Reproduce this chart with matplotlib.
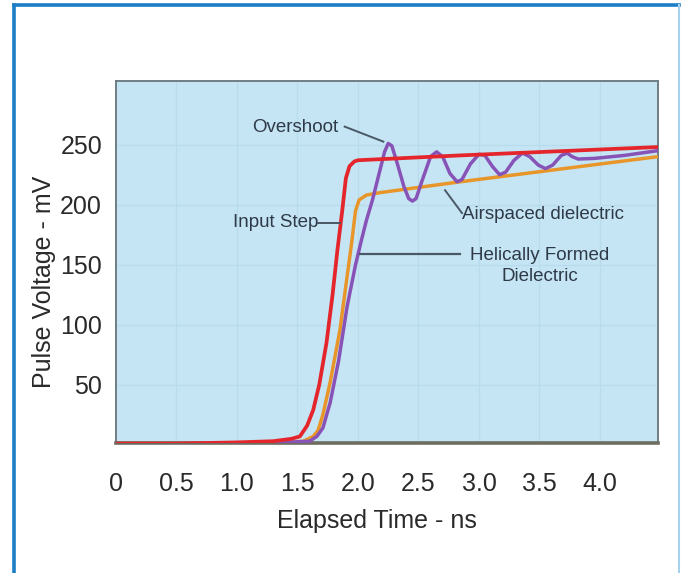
import matplotlib
matplotlib.use("Agg")
import matplotlib.pyplot as plt
from matplotlib.lines import Line2D

plt.rcParams['font.family'] = ['Liberation Sans', 'DejaVu Sans']

# --- data (time in ns, voltage in mV) ---
step_t = [0.0, 0.5, 1.0, 1.3, 1.45, 1.52, 1.58, 1.63, 1.68, 1.74, 1.79, 1.83,
          1.87, 1.90, 1.93, 1.97, 2.0, 2.84, 4.48]
step_v = [1, 1, 2, 3, 5, 7, 16, 29, 50, 85, 125, 162,
          195, 222, 232, 236, 237, 241, 248]

helix_t = [0.0, 0.5, 1.0, 1.4, 1.55, 1.63, 1.67, 1.71, 1.77, 1.85, 1.91, 1.95,
           1.98, 2.01, 2.07, 2.18, 2.84, 4.48]
helix_v = [0.5, 0.5, 1, 2, 3, 7, 12, 25, 52, 95, 140, 170,
           195, 204, 208, 210, 219, 240]

air_t = [0.0, 0.5, 1.0, 1.4, 1.6, 1.66, 1.71, 1.77, 1.84, 1.91, 1.98, 2.03,
         2.07, 2.12, 2.18, 2.22, 2.25, 2.28, 2.32, 2.38, 2.42, 2.45, 2.48,
         2.53, 2.60, 2.65, 2.70, 2.76, 2.82, 2.86, 2.93, 3.0, 3.05, 3.11,
         3.17, 3.22, 3.29, 3.36, 3.42, 3.49, 3.55, 3.61, 3.68, 3.73, 3.77,
         3.82, 3.95, 4.2, 4.48]
air_v = [0.5, 0.5, 1, 2, 3, 7, 14, 35, 70, 115, 150, 171,
         187, 204, 228, 244, 251, 249, 236, 215, 205, 203, 205,
         220, 240, 244, 240, 226, 219, 221, 234, 242, 241, 232,
         225, 227, 237, 243, 240, 233, 230, 233, 241, 243, 240,
         238, 238.5, 241, 245]

xticks = [0, 0.5, 1.0, 1.5, 2.0, 2.5, 3.0, 3.5, 4.0]
xticklabels = ["0", "0.5", "1.0", "1.5", "2.0", "2.5", "3.0", "3.5", "4.0"]
yticks = [50, 100, 150, 200, 250]

txt_col = '#2f3a48'
lead_col = '#4a5866'

fig = plt.figure(figsize=(6.81, 5.73), dpi=100)
ax = fig.add_axes([116/681, 1-443/573, 542/681, 362/573])
ax.set_facecolor('#c5e5f4')

# faint grid
for gx in xticks[1:]:
    ax.axvline(gx, color='#b9dbec', lw=1, zorder=0)
for gy in yticks:
    ax.axhline(gy, color='#b9dbec', lw=1, zorder=0)

ax.plot(helix_t, helix_v, color='#e8962a', lw=2.5, zorder=3)
ax.plot(air_t, air_v, color='#8753b6', lw=2.5, zorder=4)
ax.plot(step_t, step_v, color='#e4262c', lw=2.7, zorder=5)

ax.set_xlim(0, 4.48)
ax.set_ylim(1.5, 303)
ax.set_xticks(xticks)
ax.set_xticklabels(xticklabels)
ax.set_yticks(yticks)
ax.tick_params(axis='both', length=0, labelsize=18, labelcolor='#2a2a2a')
ax.tick_params(axis='x', pad=21)
ax.tick_params(axis='y', pad=10)

for s in ['left', 'top', 'right']:
    ax.spines[s].set_color('#6f7d84')
    ax.spines[s].set_linewidth(1.4)
ax.spines['bottom'].set_color('#6e6c60')
ax.spines['bottom'].set_linewidth(2.6)

ax.set_xlabel('Elapsed Time - ns', fontsize=18, color='#2a2a2a', va='top')
ax.xaxis.set_label_coords(0.4815, -0.183)
ax.set_ylabel('Pulse Voltage - mV', fontsize=18, color='#2a2a2a', va='center')
ax.yaxis.set_label_coords(-0.133, 0.445)

# callouts
ax.text(1.835, 264, 'Overshoot', fontsize=13.5, color=txt_col, ha='right', va='center')
ax.plot([1.89, 2.21], [265, 252.5], color=lead_col, lw=1.4, zorder=6)

ax.text(1.67, 185, 'Input Step', fontsize=13.5, color=txt_col, ha='right', va='center')
ax.plot([1.67, 1.85], [185, 185], color=lead_col, lw=1.4, zorder=6)

ax.text(2.86, 192, 'Airspaced dielectric', fontsize=13.5, color=txt_col, ha='left', va='center')
ax.plot([2.72, 2.86], [212, 193], color=lead_col, lw=1.4, zorder=6)

ax.text(3.50, 149, 'Helically Formed\nDielectric', fontsize=13.5, color=txt_col,
        ha='center', va='center', multialignment='center', linespacing=1.35)
ax.plot([2.02, 2.84], [159, 159], color=lead_col, lw=1.6, zorder=6)

# outer blue frame
fig.add_artist(Line2D([14/681, 14/681], [0, 1-5/573], color='#1c7fc6', lw=2.6))
fig.add_artist(Line2D([14/681, 679/681], [1-5/573, 1-5/573], color='#1c7fc6', lw=2.6))
fig.add_artist(Line2D([679/681, 679/681], [0, 1-5/573], color='#a9d2ee', lw=1.5))

fig.savefig('out.png', dpi=100, facecolor='white')
